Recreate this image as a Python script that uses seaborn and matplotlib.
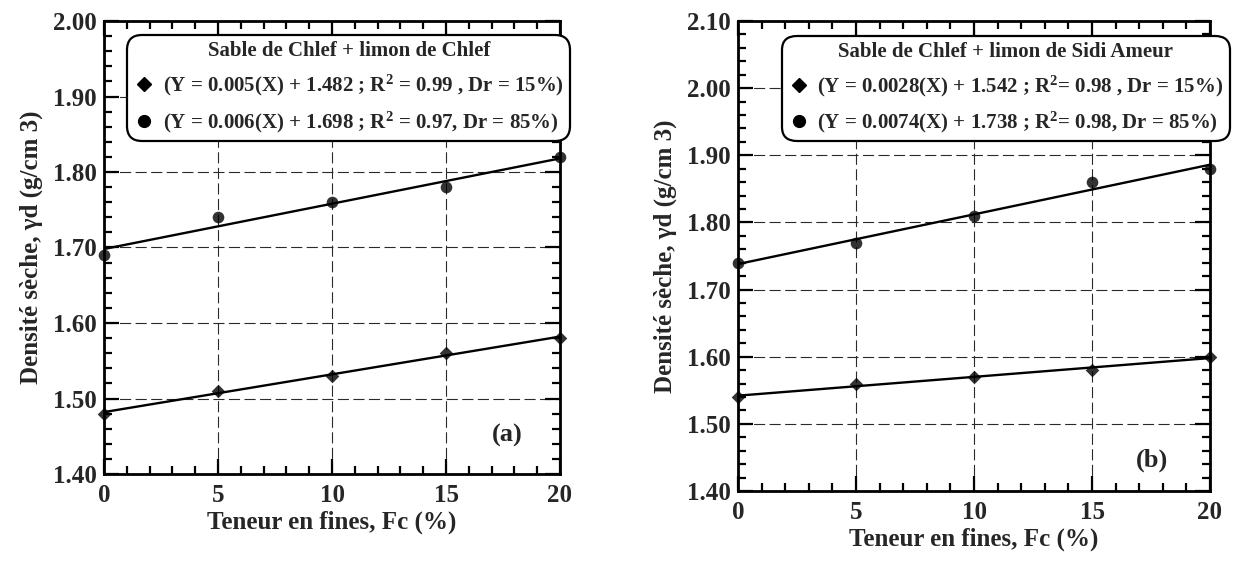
import numpy as np
import pandas as pd
import matplotlib
matplotlib.use("Agg")
import matplotlib.pyplot as plt
from matplotlib.lines import Line2D
from matplotlib.ticker import MultipleLocator, FormatStrFormatter
import seaborn as sns

fines = [0, 5, 10, 15, 20]
a_dr15 = [1.48, 1.51, 1.53, 1.56, 1.58]
a_dr85 = [1.69, 1.74, 1.76, 1.78, 1.82]
b_dr15 = [1.54, 1.56, 1.57, 1.58, 1.60]
b_dr85 = [1.74, 1.77, 1.81, 1.86, 1.88]

a_title = "Sable de Chlef + limon de Chlef"
a_labels = [r"(Y = 0.005(X) + 1.482 ; R$^{2}$ = 0.99 , Dr = 15%)",
            r"(Y = 0.006(X) + 1.698 ; R$^{2}$ = 0.97, Dr = 85%)"]
b_title = "Sable de Chlef + limon de Sidi Ameur"
b_labels = [r"(Y = 0.0028(X) + 1.542 ; R$^{2}$= 0.98 , Dr = 15%)",
            r"(Y = 0.0074(X) + 1.738 ; R$^{2}$= 0.98, Dr = 85%)"]

sns.set_theme(style="white")
plt.rcParams['font.family'] = ['Liberation Serif', 'DejaVu Serif']
plt.rcParams['font.weight'] = 'bold'
plt.rcParams['mathtext.fontset'] = 'custom'
plt.rcParams['mathtext.rm'] = 'Liberation Serif:bold'
plt.rcParams['mathtext.it'] = 'Liberation Serif:bold'
plt.rcParams['mathtext.bf'] = 'Liberation Serif:bold'
plt.rcParams['mathtext.default'] = 'rm'

W, H = 1237, 569
fig = plt.figure(figsize=(W / 100, H / 100), dpi=100)
ax1 = fig.add_axes([104 / W, 1 - 474 / H, 456 / W, 453 / H])
ax2 = fig.add_axes([738 / W, 1 - 491 / H, 472 / W, 470 / H])


def panel(ax, y15, y85, ylim, title, labels, tag, tagpos, legx):
    df = pd.DataFrame({"Fc": fines, "d15": y15, "d85": y85})
    sns.regplot(data=df, x="Fc", y="d15", ax=ax, ci=None, truncate=True,
                marker="D", color="black",
                scatter_kws={"s": 48, "zorder": 4, "linewidths": 0, "clip_on": False},
                line_kws={"lw": 1.7, "zorder": 3})
    sns.regplot(data=df, x="Fc", y="d85", ax=ax, ci=None, truncate=True,
                marker="o", color="black",
                scatter_kws={"s": 70, "zorder": 4, "linewidths": 0, "clip_on": False},
                line_kws={"lw": 1.7, "zorder": 3})
    ax.set_xlim(0, 20)
    ax.set_ylim(*ylim)
    ax.xaxis.set_major_locator(MultipleLocator(5))
    ax.xaxis.set_minor_locator(MultipleLocator(1))
    ax.yaxis.set_major_locator(MultipleLocator(0.1))
    ax.yaxis.set_minor_locator(MultipleLocator(0.02))
    ax.yaxis.set_major_formatter(FormatStrFormatter("%.2f"))
    ax.grid(True, which="major", color="#2a2a2a", lw=0.8, ls=(0, (10, 4)))
    ax.set_axisbelow(True)
    for s in ax.spines.values():
        s.set_visible(True)
        s.set_color("black")
        s.set_linewidth(2)
    ax.tick_params(which="both", direction="in", top=True, right=True,
                   bottom=True, left=True, color="black")
    ax.tick_params(which="major", length=11, width=1.6, labelsize=18)
    ax.tick_params(axis="x", which="major", pad=7)
    ax.tick_params(axis="y", which="major", pad=5)
    ax.tick_params(which="minor", length=6, width=1.6)
    for lab in ax.get_xticklabels() + ax.get_yticklabels():
        lab.set_fontweight("bold")
    ax.set_xlabel("Teneur en fines, Fc (%)", fontsize=18, fontweight="bold", labelpad=3)
    ax.set_ylabel("Densité sèche, γd (g/cm 3)", fontsize=18, fontweight="bold", labelpad=7)
    handles = [Line2D([], [], ls="none", marker="D", color="black", ms=7),
               Line2D([], [], ls="none", marker="o", color="black", ms=8.5)]
    leg = ax.legend(handles, labels, title=title, loc="upper right",
                    bbox_to_anchor=(legx, 0.969), borderaxespad=0,
                    frameon=True, fancybox=True, framealpha=1,
                    edgecolor="black", prop={"size": 15, "weight": "bold"},
                    title_fontproperties={"size": 15, "weight": "bold"},
                    handletextpad=0.4, handlelength=1.0, borderpad=0.3,
                    labelspacing=0.55)
    frame = leg.get_frame()
    frame.set_linewidth(1.6)
    frame.set_boxstyle("round,pad=0,rounding_size=0.7")
    leg.set_zorder(10)
    ax.text(tagpos[0], tagpos[1], tag, transform=ax.transAxes, fontsize=19,
            fontweight="bold", ha="center", va="center")


panel(ax1, a_dr15, a_dr85, (1.40, 2.00), a_title, a_labels, "(a)", (0.884, 0.084), 1.022)
panel(ax2, b_dr15, b_dr85, (1.40, 2.10), b_title, b_labels, "(b)", (0.877, 0.066), 1.042)

fig.savefig("out.png", dpi=100)
